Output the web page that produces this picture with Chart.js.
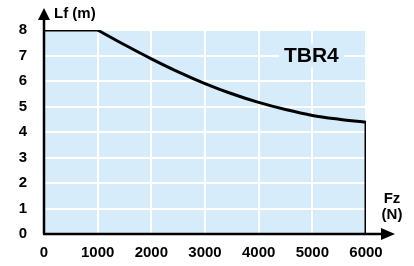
<!DOCTYPE html>
<html><head><meta charset="utf-8">
<script src="https://cdn.jsdelivr.net/npm/chart.js@4"></script>
<style>html,body{margin:0;padding:0;background:#fff}#wrap{width:414px;height:266px}</style>
</head><body><div id="wrap"><canvas id="c" width="414" height="266"></canvas></div>
<script>
const xTicks = [0, 1000, 2000, 3000, 4000, 5000, 6000];
const yTicks = [0, 1, 2, 3, 4, 5, 6, 7, 8];
const flatFz = [0, 1000];
const flatLf = [8, 8];
const curveFz = [1000, 1500, 2000, 2500, 3000, 3500, 4000, 4500, 5000, 5500, 6000];
const curveLf = [8, 7.42, 6.87, 6.36, 5.9, 5.5, 5.16, 4.88, 4.65, 4.5, 4.38];
const dropFz = [6000, 6000];
const dropLf = [4.38, 0];
const seriesName = "TBR4";
const xTitle = ["Fz", "(N)"];
const yTitle = "Lf (m)";

const FONT = "'Liberation Sans', Arial, sans-serif";
const BLUE = "rgb(214,236,250)";
const pts = (xs, ys) => xs.map((x, i) => ({x, y: ys[i]}));

const deco = {
  id: 'deco',
  beforeDraw(chart) {
    const {ctx, chartArea: a} = chart;
    ctx.save();
    ctx.fillStyle = BLUE;
    ctx.fillRect(a.left, a.top, a.right - a.left, a.bottom - a.top);
    ctx.restore();
  },
  afterDatasetsDraw(chart) {
    const {ctx, chartArea: a, scales} = chart;
    ctx.save();
    // label box
    const lx = scales.x.getPixelForValue(5000) - 1, ly = scales.y.getPixelForValue(7);
    ctx.font = "bold 21px " + FONT;
    const w = ctx.measureText(seriesName).width;
    ctx.fillStyle = BLUE;
    ctx.fillRect(lx - w/2 - 5, ly - 12, w + 10, 24);
    ctx.fillStyle = "#000";
    ctx.textAlign = "center"; ctx.textBaseline = "middle";
    ctx.fillText(seriesName, lx, ly + 1);
    // axes
    ctx.strokeStyle = "#000"; ctx.fillStyle = "#000"; ctx.lineWidth = 2.5;
    ctx.beginPath();
    ctx.moveTo(a.left, a.bottom); ctx.lineTo(a.left, 14);
    ctx.moveTo(a.left - 1, a.bottom); ctx.lineTo(384, a.bottom);
    ctx.stroke();
    ctx.beginPath();
    ctx.moveTo(a.left, 8); ctx.lineTo(a.left - 6, 20); ctx.lineTo(a.left + 6, 20); ctx.closePath(); ctx.fill();
    ctx.beginPath();
    ctx.moveTo(395, a.bottom); ctx.lineTo(381, a.bottom - 6); ctx.lineTo(381, a.bottom + 6); ctx.closePath(); ctx.fill();
    // titles
    ctx.font = "bold 15px " + FONT;
    ctx.textAlign = "left"; ctx.textBaseline = "middle";
    ctx.fillText(yTitle, a.left + 10, 14);
    ctx.textAlign = "center";
    ctx.fillText(xTitle[0], 392, 199);
    ctx.fillText(xTitle[1], 392, 215);
    ctx.restore();
  }
};

new Chart(document.getElementById('c'), {
  type: 'scatter',
  data: {
    datasets: [
      {data: pts(flatFz, flatLf), showLine: true, borderColor: '#000', borderWidth: 3, pointRadius: 0, tension: 0},
      {data: pts(curveFz, curveLf), showLine: true, borderColor: '#000', borderWidth: 3, pointRadius: 0, cubicInterpolationMode: 'monotone'},
      {data: pts(dropFz, dropLf), showLine: true, borderColor: '#000', borderWidth: 3, pointRadius: 0, tension: 0}
    ]
  },
  options: {
    responsive: false, animation: false,
    layout: {padding: {top: 30, right: 48, left: 0, bottom: 0}},
    plugins: {legend: {display: false}, tooltip: {enabled: false}},
    scales: {
      x: {
        type: 'linear', min: 0, max: 6000,
        afterBuildTicks: s => { s.ticks = xTicks.map(v => ({value: v})); },
        afterFit: s => { s.height = 32; },
        grid: {color: '#fff', lineWidth: 2, drawTicks: false},
        border: {display: false},
        ticks: {color: '#000', font: {family: FONT, size: 15, weight: 'bold'}, padding: 10, maxRotation: 0, callback: v => String(v)}
      },
      y: {
        min: 0, max: 8,
        afterBuildTicks: s => { s.ticks = yTicks.map(v => ({value: v})); },
        afterFit: s => { s.width = 44; },
        grid: {color: '#fff', lineWidth: 2, drawTicks: false},
        border: {display: false},
        ticks: {color: '#000', font: {family: FONT, size: 15, weight: 'bold'}, padding: 17, callback: v => String(v)}
      }
    }
  },
  plugins: [deco]
});
</script></body></html>
